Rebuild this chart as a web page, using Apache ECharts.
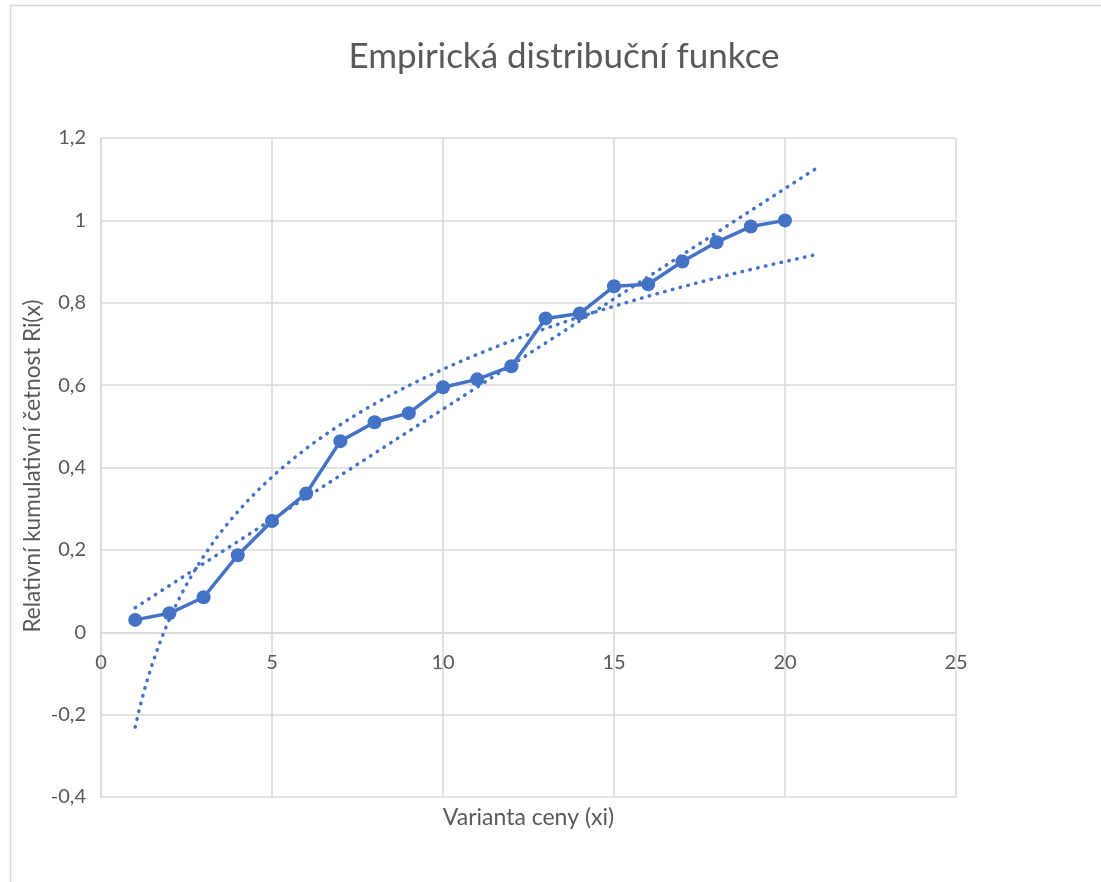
<!DOCTYPE html>
<html>
<head>
<meta charset="utf-8">
<script src="https://cdn.jsdelivr.net/npm/echarts@6/dist/echarts.min.js"></script>
<style>
html,body{margin:0;padding:0;background:#fff;}
#chart{width:1101px;height:882px;}
</style>
</head>
<body>
<div id="chart"></div>
<script>
// Data
const xValues = [1,2,3,4,5,6,7,8,9,10,11,12,13,14,15,16,17,18,19,20];
const yValues = [0.030,0.046,0.085,0.187,0.270,0.337,0.464,0.510,0.532,0.595,0.614,0.646,0.762,0.774,0.840,0.845,0.900,0.947,0.985,1.000];
const chartTitle = 'Empirická distribuční funkce';
const xTitle = 'Varianta ceny (xi)';
const yTitle = 'Relativní kumulativní četnost Ri(x)';
const trendForward = 1; // trendline forecast forward (periods)

// Trendlines computed from the data (least squares), as the spreadsheet does
function regress(xs, ys) {
  const n = xs.length;
  let sx=0, sy=0, sxx=0, sxy=0;
  for (let i=0;i<n;i++){ sx+=xs[i]; sy+=ys[i]; sxx+=xs[i]*xs[i]; sxy+=xs[i]*ys[i]; }
  const a = (n*sxy - sx*sy)/(n*sxx - sx*sx);
  const b = (sy - a*sx)/n;
  return {a, b};
}
const lin = regress(xValues, yValues);
const lg = regress(xValues.map(Math.log), yValues);
const xStart = xValues[0], xEnd = xValues[xValues.length-1] + trendForward;
const linTrend = [[xStart, lin.a*xStart+lin.b],[xEnd, lin.a*xEnd+lin.b]];
const logTrend = [];
for (let i=0;i<=200;i++){
  const x = xStart + (xEnd-xStart)*i/200;
  logTrend.push([x, lg.a*Math.log(x)+lg.b]);
}

const blue = '#4472C4';
const grid = '#d9d9d9';
const txt = '#595959';
const font = 'Lato';
const X_NAME_BELOW_PLOT = 9; // gap from plot bottom to x-axis title

const chart = echarts.init(document.getElementById('chart'));
chart.setOption({
  animation:false,
  backgroundColor:'#fff',
  title:{
    text: chartTitle, left:559, textAlign:'center', top:34,
    textStyle:{fontFamily:font, fontWeight:'normal', fontSize:35, color:txt}
  },
  graphic:[{
    type:'rect', silent:true, z:-1,
    shape:{x:10.5, y:5.5, width:1300, height:1000},
    style:{fill:'none', stroke:grid, lineWidth:1.5}
  },{
    type:'text', silent:true, x:33, y:466, rotation:Math.PI/2,
    style:{text:yTitle, fontFamily:font, fontSize:22.5, fill:txt, align:'center', verticalAlign:'middle'}
  }],
  grid:{left:101, right:145, top:138, bottom:85, containLabel:false, outerBoundsMode:'none'},
  xAxis:{
    type:'value', min:0, max:25, interval:5, position:'bottom',
    name:xTitle, nameLocation:'middle', nameGap:X_NAME_BELOW_PLOT,
    nameTextStyle:{fontFamily:font, fontSize:23, color:txt},
    axisLine:{show:true, onZero:true, lineStyle:{color:grid, width:1.5}},
    axisTick:{show:false},
    axisLabel:{fontFamily:font, fontSize:20, color:txt, margin:20},
    splitLine:{show:true, lineStyle:{color:grid, width:1.5}}
  },
  yAxis:{
    type:'value', min:-0.4, max:1.2, interval:0.2,
    axisLine:{show:true, onZero:false, lineStyle:{color:grid, width:1.5}},
    axisTick:{show:false},
    axisLabel:{fontFamily:font, fontSize:20, color:txt, margin:15,
      formatter:function(v){ return String(Math.round(v*10)/10).replace('.', ','); }},
    splitLine:{show:true, lineStyle:{color:grid, width:1.5}}
  },
  series:[
    {
      type:'line', data:xValues.map((x,i)=>[x,yValues[i]]),
      symbol:'circle', symbolSize:14,
      itemStyle:{color:blue},
      lineStyle:{color:blue, width:3.5}, z:3
    },
    {
      type:'line', data:linTrend, symbol:'none', silent:true,
      lineStyle:{color:blue, width:3.5, type:[0.5,7.5], cap:'round'}, z:4
    },
    {
      type:'line', data:logTrend, symbol:'none', silent:true, smooth:false,
      lineStyle:{color:blue, width:3.5, type:[0.5,7.5], cap:'round'}, z:4
    }
  ]
});

// Place the x axis (line + tick labels) at y = 0, as in the reference,
// using the library's own y scale to find where zero is.
const zeroPx = chart.convertToPixel({yAxisIndex:0}, 0);
const bottomPx = chart.convertToPixel({yAxisIndex:0}, -0.4);
const shift = bottomPx - zeroPx;
chart.setOption({
  xAxis:{ offset: -shift, nameGap: shift + X_NAME_BELOW_PLOT }
});
</script>
</body>
</html>
